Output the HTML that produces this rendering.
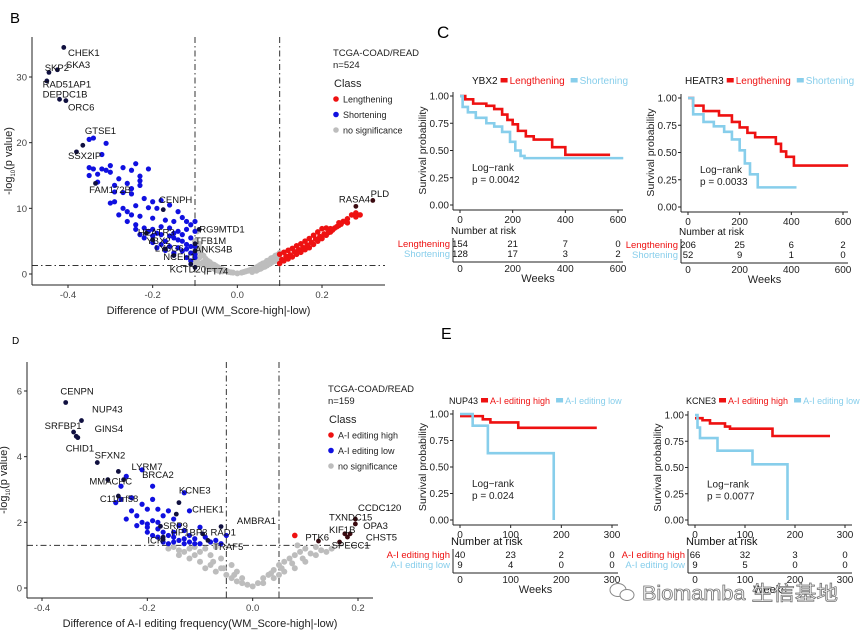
<!DOCTYPE html>
<html><head><meta charset="utf-8"><style>
html,body{margin:0;padding:0;background:#fff;}
svg{display:block;font-family:"Liberation Sans","Noto Sans CJK SC",sans-serif;}
</style></head><body>
<svg id="fig" width="865" height="632" viewBox="0 0 865 632"></svg>
<script>
// ===== Panel B data =====
const bBlue=[[-0.35,20.5],[-0.34,20.7],[-0.31,19.9],[-0.32,18.2],[-0.35,16.2],[-0.34,16],[-0.35,15],[-0.33,15.2],[-0.31,15.8],[-0.3,16.5],[-0.3,15.5],[-0.27,16.2],[-0.24,16.8],[-0.21,16],[-0.25,15.8],[-0.23,14.9],[-0.23,14.2],[-0.23,13.5],[-0.26,13.8],[-0.25,13],[-0.25,12.2],[-0.27,12.4],[-0.29,12.5],[-0.29,11],[-0.22,11.5],[-0.2,11],[-0.18,11.2],[-0.16,10.5],[-0.24,10.4],[-0.27,10],[-0.26,9.5],[-0.21,10.1],[-0.19,10],[-0.14,9.5],[-0.13,8.6],[-0.12,8],[-0.15,8],[-0.17,8.2],[-0.2,8.5],[-0.23,8.8],[-0.25,9],[-0.26,8],[-0.24,7.5],[-0.22,7],[-0.2,6.8],[-0.18,7.2],[-0.16,7],[-0.14,6.5],[-0.12,6.8],[-0.11,7.5],[-0.1,8],[-0.1,6.5],[-0.22,5.5],[-0.2,5.8],[-0.19,6.2],[-0.17,5],[-0.15,5.5],[-0.13,5],[-0.11,5.5],[-0.12,4.5],[-0.14,4],[-0.16,4.2],[-0.18,4.5],[-0.2,4.8],[-0.13,3.5],[-0.11,3.2],[-0.12,2.5],[-0.11,2],[-0.1,2.5],[-0.15,3.2],[-0.17,3.6],[-0.19,4],[-0.21,6.5],[-0.23,6],[-0.24,6.8],[-0.28,9],[-0.3,10.8],[-0.29,13.5],[-0.28,14.5],[-0.32,16],[-0.33,14],[-0.15,6.2],[-0.13,6],[-0.11,4.2],[-0.14,5.2],[-0.16,5.8],[-0.18,6],[-0.12,3.8],[-0.1,4.2],[-0.1,3]];
const bGrey=[[-0.1,5],[-0.1,4],[-0.1,3],[-0.09,3.5],[-0.09,2.5],[-0.08,2.8],[-0.08,1.8],[-0.07,2],[-0.07,1.2],[-0.06,1.5],[-0.05,1.2],[-0.05,0.6],[-0.04,0.8],[-0.03,0.6],[-0.02,0.3],[-0.01,0.2],[0,0.1],[0.01,0.2],[0.02,0.4],[0.03,0.6],[0.04,0.8],[0.05,1.2],[0.05,0.7],[0.06,1.6],[0.06,1],[0.07,2],[0.07,1.3],[0.08,2.4],[0.08,1.7],[0.09,2.8],[0.09,2],[0.1,3.2],[0.1,2.4],[-0.09,1.5],[-0.1,1.8],[-0.095,6.5],[-0.085,3],[-0.075,2.3],[-0.065,1.8],[-0.055,1.4],[-0.045,1],[-0.035,0.7],[-0.025,0.45],[-0.015,0.25],[0.015,0.3],[0.025,0.5],[0.035,0.7],[0.045,1],[0.055,1.4],[0.065,1.7],[0.075,2.1],[0.085,2.5],[0.095,2.9],[-0.095,2.2],[-0.085,1.6],[-0.075,1.3],[-0.065,0.9],[-0.055,0.8],[-0.045,0.5],[-0.035,0.4],[0.035,0.3],[0.045,0.5],[0.055,0.8],[0.065,1.1],[0.075,1.5],[0.085,1.9],[0.095,2.2],[-0.095,4.4],[-0.085,3.8],[-0.09,4.6]];
const bRed=[[0.1,1.6],[0.1,3],[0.11,2],[0.11,3.3],[0.12,2.3],[0.12,3.6],[0.13,2.6],[0.13,3.9],[0.14,3],[0.14,4.3],[0.15,3.3],[0.15,4.6],[0.16,3.7],[0.16,5],[0.17,4],[0.17,5.4],[0.18,4.5],[0.18,5.9],[0.19,5],[0.19,6.4],[0.2,5.4],[0.2,6.9],[0.21,5.9],[0.21,7],[0.22,6.4],[0.22,6.9],[0.23,7],[0.24,7.4],[0.24,7.8],[0.25,8],[0.26,8.4],[0.26,7.8],[0.27,9],[0.28,9.3],[0.28,8.7],[0.29,9],[0.125,2.9],[0.135,3.4],[0.155,4],[0.175,4.8],[0.195,5.7],[0.215,6.3],[0.105,2.2],[0.115,2.7],[0.145,3.7],[0.165,4.4],[0.185,5.3],[0.205,6.1],[0.225,6.7],[0.235,7.2],[0.245,7.6]];
const bLabNames=["CHEK1","SKP2","SKA3","RAD51AP1","DEPDC1B","ORC6","GTSE1","SSX2IP","FAM172B","CENPH","HEATR3","YBX2","LY6G6","NCEH1","KCTD20","IFT74","ANKS4B","TFB1M","RG9MTD1","PLD","RASA4"];
const bLabPts=[[-0.41,34.5],[-0.445,30.7],[-0.425,31.1],[-0.45,29.4],[-0.42,26.6],[-0.405,26.4],[-0.365,19.6],[-0.38,18.6],[-0.335,13.8],[-0.175,9.8],[-0.215,6.2],[-0.2,5.2],[-0.17,3.8],[-0.15,2.8],[-0.11,1.5],[-0.1,1.0],[-0.1,3.5],[-0.1,4.6],[-0.09,6.8],[0.32,11.2],[0.28,10.3]];
const bLabPos=[[-0.4,33.2],[-0.455,30.9],[-0.405,31.4],[-0.46,28.4],[-0.46,26.9],[-0.4,24.9],[-0.36,21.3],[-0.4,17.5],[-0.35,12.3],[-0.185,10.8],[-0.235,5.9],[-0.215,4.6],[-0.195,3.4],[-0.175,2.1],[-0.16,0.2],[-0.08,-0.1],[-0.1,3.3],[-0.1,4.6],[-0.09,6.3],[0.315,11.7],[0.24,10.9]];
const bXTicks=[-0.4,-0.2,0.0,0.2], bXTickLbl=["-0.4","-0.2","0.0","0.2"], bYTicks=[0,10,20,30];

// ===== Panel D data =====
const dBlue=[[-0.25,3.1],[-0.24,3.4],[-0.21,3.6],[-0.19,3.1],[-0.25,2.7],[-0.23,2.75],[-0.21,2.55],[-0.19,2.7],[-0.13,2.9],[-0.23,2.35],[-0.22,2.2],[-0.2,2.4],[-0.18,2.4],[-0.16,2.35],[-0.12,2.35],[-0.24,2.1],[-0.21,2],[-0.2,1.95],[-0.19,2.05],[-0.18,1.8],[-0.17,2.2],[-0.15,2.1],[-0.14,1.9],[-0.13,1.75],[-0.2,1.7],[-0.19,1.6],[-0.17,1.7],[-0.16,1.6],[-0.15,1.55],[-0.14,1.45],[-0.13,1.5],[-0.12,1.4],[-0.11,1.5],[-0.1,1.85],[-0.09,1.55],[-0.08,1.4],[-0.07,1.45],[-0.05,1.6],[-0.17,1.4],[-0.16,1.35],[-0.15,1.4],[-0.13,1.35],[-0.11,1.35],[-0.1,1.35],[-0.06,1.35],[-0.18,1.55],[-0.15,1.7],[-0.12,1.6],[-0.26,2.6],[-0.22,1.9],[-0.2,1.85],[-0.18,2]];
const dGrey=[[-0.16,1.2],[-0.14,1.15],[-0.14,1],[-0.12,1.2],[-0.12,0.9],[-0.1,1.1],[-0.1,0.8],[-0.09,0.6],[-0.08,1],[-0.08,0.7],[-0.07,0.5],[-0.06,0.9],[-0.06,0.6],[-0.05,0.4],[-0.04,0.7],[-0.04,0.3],[-0.03,0.5],[-0.03,0.2],[-0.02,0.3],[-0.02,0.15],[-0.01,0.1],[0,0.05],[0.01,0.15],[0.02,0.3],[0.02,0.15],[0.03,0.4],[0.04,0.55],[0.04,0.3],[0.05,0.7],[0.05,0.4],[0.06,0.8],[0.06,0.5],[0.07,0.9],[0.08,1],[0.08,0.6],[0.09,1.1],[0.1,0.8],[0.1,1.2],[0.12,1],[0.12,1.25],[0.14,1.1],[0.15,1.2],[-0.11,1.25],[-0.09,1.2],[-0.07,1.25],[0.085,1.3],[-0.13,1.1],[-0.15,1.25],[-0.11,1.0],[-0.075,0.8],[-0.055,0.6],[-0.035,0.4],[0.035,0.45],[0.055,0.6],[0.075,0.75],[0.095,0.9],[0.11,1.05],[0.13,1.15]];
const dRed=[[0.08,1.6]];
const dLabNames=["CENPN","NUP43","SRFBP1","GINS4","CHID1","SFXN2","LYRM7","MMACHC","BRCA2","C11orf58","KCNE3","CHEK1","SRP9","HP1BP3","RAD1","AMBRA1","TRAF5","ICK","CCDC120","TXNDC15","OPA3","KIF1B","CHST5","SPECC1","PTK6"];
const dLabPts=[[-0.355,5.65],[-0.325,5.1],[-0.34,4.75],[-0.335,4.62],[-0.332,4.58],[-0.295,3.82],[-0.255,3.55],[-0.275,3.3],[-0.245,3.3],[-0.255,2.8],[-0.14,2.6],[-0.145,2.25],[-0.175,1.88],[-0.17,1.55],[-0.095,1.65],[-0.06,1.87],[-0.085,1.45],[-0.17,1.48],[0.195,2.1],[0.175,1.65],[0.195,1.95],[0.18,1.55],[0.185,1.65],[0.165,1.4],[0.125,1.43]];
const dLabPos=[[-0.365,5.9],[-0.305,5.35],[-0.395,4.85],[-0.3,4.75],[-0.355,4.15],[-0.3,3.95],[-0.23,3.6],[-0.31,3.15],[-0.21,3.35],[-0.29,2.62],[-0.14,2.88],[-0.115,2.3],[-0.17,1.8],[-0.155,1.6],[-0.08,1.6],[-0.03,1.95],[-0.075,1.15],[-0.2,1.35],[0.2,2.35],[0.145,2.05],[0.21,1.8],[0.145,1.68],[0.215,1.45],[0.15,1.2],[0.1,1.45]];
const dXTicks=[-0.4,-0.2,0.0,0.2], dXTickLbl=["-0.4","-0.2","0.0","0.2"], dYTicks=[0,2,4,6];

// ===== Survival data (time, survival) =====
const ybxLenT=[0,20,50,100,130,160,180,200,220,250,280,350,400,570], ybxLenS=[1,0.97,0.93,0.91,0.88,0.83,0.78,0.74,0.68,0.63,0.60,0.53,0.46,0.46];
const ybxShoT=[0,10,30,60,100,130,160,190,210,230,245,620], ybxShoS=[1,0.9,0.85,0.8,0.75,0.72,0.67,0.58,0.5,0.45,0.43,0.43];
const heaLenT=[0,20,60,120,170,200,230,260,340,360,380,410,620], heaLenS=[1,0.93,0.88,0.84,0.78,0.73,0.68,0.64,0.58,0.51,0.46,0.38,0.38];
const heaShoT=[0,20,60,100,140,170,200,220,240,270,420], heaShoS=[1,0.85,0.78,0.74,0.69,0.62,0.52,0.40,0.30,0.18,0.18];
const nupHiT=[0,45,60,115,270], nupHiS=[0.98,0.95,0.92,0.87,0.87];
const nupLoT=[0,25,55,185,185], nupLoS=[1,0.89,0.63,0.0,0.0];
const kcnHiT=[0,15,30,60,70,155,270], kcnHiS=[0.97,0.95,0.92,0.89,0.87,0.80,0.80];
const kcnLoT=[0,5,10,45,115,185,185], kcnLoS=[1,0.88,0.78,0.66,0.53,0.0,0.0];
const riskYbxL=[154,21,7,0], riskYbxS=[128,17,3,2];
const riskHeaL=[206,25,6,2], riskHeaS=[52,9,1,0];
const riskNupH=[40,23,2,0], riskNupL=[9,4,0,0];
const riskKcnH=[66,32,3,0], riskKcnL=[9,5,0,0];
const tC=[0,200,400,600], tE=[0,100,200,300], survTicks=[0,0.25,0.5,0.75,1];
const survLbl=["0.00","0.25","0.50","0.75","1.00"];

const NS="http://www.w3.org/2000/svg", svg=document.getElementById('fig');
function mk(tag,attrs,parent,txt){const e=document.createElementNS(NS,tag);for(const k in attrs)e.setAttribute(k,attrs[k]);if(txt!==undefined)e.textContent=txt;(parent||svg).appendChild(e);return e;}
function lin(d0,d1,p0,p1){return v=>p0+(v-d0)*(p1-p0)/(d1-d0);}

function letter(t,x,y,s){const e=mk('text',{x:x,y:y,'font-size':s,fill:'#000'},svg,t);

}
letter('B',10,23,15);letter('C',437,38,17);letter('D',12,344,10);letter('E',441,339,16);

function volcano(o){
  const g=mk('g',{});
  
  
  const X=lin(o.xd[0],o.xd[1],o.xp[0],o.xp[1]), Y=lin(o.yd[0],o.yd[1],o.yp[0],o.yp[1]);
  const ref=mk('g',{stroke:'#333','stroke-width':1,'stroke-dasharray':'6,3,1.5,3'},g);
  
  const dots=mk('g',{},g);
  
  o.grey.forEach(p=>{const c=mk('circle',{cx:X(p[0]),cy:Y(p[1]),r:3,fill:'#bdbdbd'},dots);
    });
  o.blue.forEach(p=>{const c=mk('circle',{cx:X(p[0]),cy:Y(p[1]),r:2.6,fill:'#1010e0'},dots);
    });
  o.red.forEach(p=>{const c=mk('circle',{cx:X(p[0]),cy:Y(p[1]),r:2.8,fill:'#ee1111'},dots);
    });
  o.labPts.forEach((p,i)=>{const c=mk('circle',{cx:X(p[0]),cy:Y(p[1]),r:2.4,fill:p[0]>0?'#3a0a10':'#101040'},dots);
    
    const t=mk('text',{x:X(o.labPos[i][0]),y:Y(o.labPos[i][1]),'font-size':9.5,fill:'#111'},g,o.labNames[i]);
    });
  o.vl.forEach(v=>mk('line',{x1:X(v),x2:X(v),y1:o.top,y2:o.yp[0]+12},ref));
  mk('line',{x1:o.left,x2:o.xp[2],y1:Y(1.3),y2:Y(1.3)},ref);
  const ax=mk('g',{stroke:'#222','stroke-width':1},g);
  
  mk('line',{x1:o.left,x2:o.left,y1:o.top,y2:o.bottom},ax);
  mk('line',{x1:o.left,x2:o.xp[2],y1:o.bottom,y2:o.bottom},ax);
  o.xt.forEach((v,i)=>{mk('line',{x1:X(v),x2:X(v),y1:o.bottom,y2:o.bottom+3},ax);
    const t=mk('text',{x:X(v),y:o.bottom+13,'font-size':9.5,'text-anchor':'middle',fill:'#444'},g,o.xtl[i]);
    });
  o.yt.forEach(v=>{mk('line',{x1:o.left-3,x2:o.left,y1:Y(v),y2:Y(v)},ax);
    const t=mk('text',{x:o.left-5,y:Y(v)+3.5,'font-size':9.5,'text-anchor':'end',fill:'#444'},g,String(v));
    });
  const xt=mk('text',{x:(o.left+o.xp[2])/2,y:o.bottom+29,'font-size':11,'text-anchor':'middle',fill:'#222'},g,o.xtitle);
  
  const yt=mk('text',{x:0,y:0,'font-size':11,'text-anchor':'middle',fill:'#222',transform:`translate(${o.left-20},${(o.top+o.bottom)/2}) rotate(-90)`},g);
  
  yt.appendChild(document.createTextNode('-log'));
  mk('tspan',{'font-size':6,dy:3},yt,'10');
  mk('tspan',{dy:-3},yt,'(p value)');
  const lg=mk('g',{},g);
  
  mk('text',{x:o.lx,y:o.ly,'font-size':9.5,fill:'#222'},lg,'TCGA-COAD/READ');
  mk('text',{x:o.lx,y:o.ly+12,'font-size':9.5,fill:'#222'},lg,o.n);
  mk('text',{x:o.lx+1,y:o.ly+31,'font-size':11,fill:'#222'},lg,'Class');
  [['#ee1111',o.c1],['#1010e0',o.c2],['#bdbdbd','no significance']].forEach((c,i)=>{
    const yy=o.ly+43+i*15.5;
    const en=mk('g',{},lg);
    
    mk('circle',{cx:o.lx+3,cy:yy,r:2.8,fill:c[0]},en);
    mk('text',{x:o.lx+10,y:yy+3.5,'font-size':9,fill:'#222'},en,c[1]);});
}
volcano({name:'volcano-pdui',xd:[-0.4,0.2],xp:[68,322,385],yd:[0,30],yp:[274,77],left:32,top:37,bottom:285,
  grey:bGrey,blue:bBlue,red:bRed,labPts:bLabPts,labNames:bLabNames,labPos:bLabPos,vl:[-0.1,0.1],
  xt:bXTicks,xtl:bXTickLbl,yt:bYTicks,xtitle:'Difference of PDUI (WM_Score-high|-low)',lx:333,ly:56,n:'n=524',c1:'Lengthening',c2:'Shortening'});
volcano({name:'volcano-ai-editing',xd:[-0.4,0.2],xp:[42,358,373],yd:[0,6],yp:[588,391],left:27,top:362,bottom:598,
  grey:dGrey,blue:dBlue,red:dRed,labPts:dLabPts,labNames:dLabNames,labPos:dLabPos,vl:[-0.05,0.05],
  xt:dXTicks,xtl:dXTickLbl,yt:dYTicks,xtitle:'Difference of A-I editing frequency(WM_Score-high|-low)',lx:328,ly:392,n:'n=159',c1:'A-I editing high',c2:'A-I editing low'});

function km(o){
  const g=mk('g',{});
  
  
  const X=lin(o.td[0],o.td[1],o.x0,o.x1), Y=lin(0,1,o.y0,o.y1);
  const ax=mk('g',{stroke:'#222','stroke-width':1},g);
  
  mk('line',{x1:o.ax,x2:o.ax,y1:o.y1-4,y2:o.y0+5},ax);
  mk('line',{x1:o.ax,x2:o.right,y1:o.y0+5,y2:o.y0+5},ax);
  o.tt.forEach(v=>{mk('line',{x1:X(v),x2:X(v),y1:o.y0+5,y2:o.y0+8},ax);
    const t=mk('text',{x:X(v),y:o.y0+18,'font-size':10,'text-anchor':'middle',fill:'#222'},g,String(v));
    });
  survTicks.forEach((v,i)=>{mk('line',{x1:o.ax-3,x2:o.ax,y1:Y(v),y2:Y(v)},ax);
    const t=mk('text',{x:o.ax-4,y:Y(v)+3.5,'font-size':10,'text-anchor':'end',fill:'#222'},g,survLbl[i]);
    });
  const yt=mk('text',{x:0,y:0,'font-size':10.5,'text-anchor':'middle',fill:'#222',transform:`translate(${o.ax-27},${(o.y0+o.y1)/2}) rotate(-90)`},g,'Survival probability');
  
  [[o.lT,o.lS,'#ee1111','curve-high'],[o.sT,o.sS,'#87ceeb','curve-low']].forEach(s=>{
    let d=`M${X(s[0][0])},${Y(s[1][0])}`;
    for(let i=1;i<s[0].length;i++){d+=` H${X(s[0][i])} V${Y(s[1][i])}`;}
    const p=mk('path',{d:d,fill:'none',stroke:s[2],'stroke-width':2.6},g);
    });
  const lr=mk('text',{x:X(o.td[0])+12,y:Y(0.31),'font-size':10,fill:'#222'},g,'Log−rank');
  
  const pv=mk('text',{x:X(o.td[0])+12,y:Y(0.31)+12,'font-size':10,fill:'#222'},g,o.p);
  
  // title + legend
  const tg=mk('g',{},g);
  
  const gt=mk('text',{x:o.tx,y:o.ty,'font-size':o.tfs,fill:'#111'},tg,o.gene);
  let xx=o.tx+gt.getComputedTextLength()+3;
  [['#ee1111',o.n1],['#87ceeb',o.n2]].forEach(c=>{
    mk('rect',{x:xx,y:o.ty-6,width:7,height:4.5,fill:c[0]},tg);
    const t=mk('text',{x:xx+9,y:o.ty,'font-size':o.tfs,fill:c[0]},tg,c[1]);
    xx+=9+t.getComputedTextLength()+6;});
  // risk table
  const rt=mk('g',{},g);
  
  mk('text',{x:o.ax-2,y:o.ry,'font-size':o.rfs,fill:'#111'},rt,'Number at risk');
  [[o.r1,'#ee1111',o.n1],[o.r2,'#87ceeb',o.n2]].forEach((r,j)=>{
    const yy=o.ry+13+j*10;
    mk('text',{x:o.ax-3,y:yy,'font-size':9.5,'text-anchor':'end',fill:r[1]},rt,r[2]);
    r[0].forEach((v,i)=>mk('text',{x:X(o.tt[i]),y:yy,'font-size':9.5,'text-anchor':'middle',fill:'#111'},rt,String(v)));});
  mk('line',{x1:o.ax,x2:o.ax,y1:o.ry+4,y2:o.ry+28,stroke:'#222'},rt);
  mk('line',{x1:o.ax,x2:o.right,y1:o.ry+28,y2:o.ry+28,stroke:'#222'},rt);
  o.tt.forEach(v=>mk('text',{x:X(v),y:o.ry+38,'font-size':10,'text-anchor':'middle',fill:'#222'},rt,String(v)));
  mk('text',{x:(o.ax+o.right)/2,y:o.ry+48,'font-size':11,'text-anchor':'middle',fill:'#222'},rt,'Weeks');
}
km({name:'km-ybx2',td:[0,600],tt:tC,x0:460,x1:618,y0:205,y1:96,ax:453,right:623,lT:ybxLenT,lS:ybxLenS,sT:ybxShoT,sS:ybxShoS,
  p:'p = 0.0042',gene:'YBX2',tx:472,ty:84,tfs:10,n1:'Lengthening',n2:'Shortening',r1:riskYbxL,r2:riskYbxS,ry:234,rfs:10});
km({name:'km-heatr3',td:[0,600],tt:tC,x0:688,x1:843,y0:207,y1:98,ax:681,right:848,lT:heaLenT,lS:heaLenS,sT:heaShoT,sS:heaShoS,
  p:'p = 0.0033',gene:'HEATR3',tx:685,ty:84,tfs:10,n1:'Lengthening',n2:'Shortening',r1:riskHeaL,r2:riskHeaS,ry:235,rfs:10});
km({name:'km-nup43',td:[0,300],tt:tE,x0:460,x1:612,y0:520,y1:414,ax:453,right:618,lT:nupHiT,lS:nupHiS,sT:nupLoT,sS:nupLoS,
  p:'p = 0.024',gene:'NUP43',tx:449,ty:404,tfs:9,n1:'A-I editing high',n2:'A-I editing low',r1:riskNupH,r2:riskNupL,ry:545,rfs:11});
km({name:'km-kcne3',td:[0,300],tt:tE,x0:695,x1:845,y0:520,y1:415,ax:688,right:852,lT:kcnHiT,lS:kcnHiS,sT:kcnLoT,sS:kcnLoS,
  p:'p = 0.0077',gene:'KCNE3',tx:686,ty:404,tfs:9,n1:'A-I editing high',n2:'A-I editing low',r1:riskKcnH,r2:riskKcnL,ry:545,rfs:11});

// watermark
const wm=mk('g',{});


mk('ellipse',{cx:618,cy:590,rx:8,ry:6.5,fill:'#fff',stroke:'#888','stroke-width':1},wm);
mk('ellipse',{cx:627,cy:595,rx:7,ry:5.5,fill:'#fff',stroke:'#888','stroke-width':1},wm);
const wt=mk('text',{x:642,y:600,'font-size':20,fill:'#fff',stroke:'#777','stroke-width':0.8,textLength:196,lengthAdjust:'spacingAndGlyphs'},wm,'Biomamba 生信基地');
</script>
</body></html>
